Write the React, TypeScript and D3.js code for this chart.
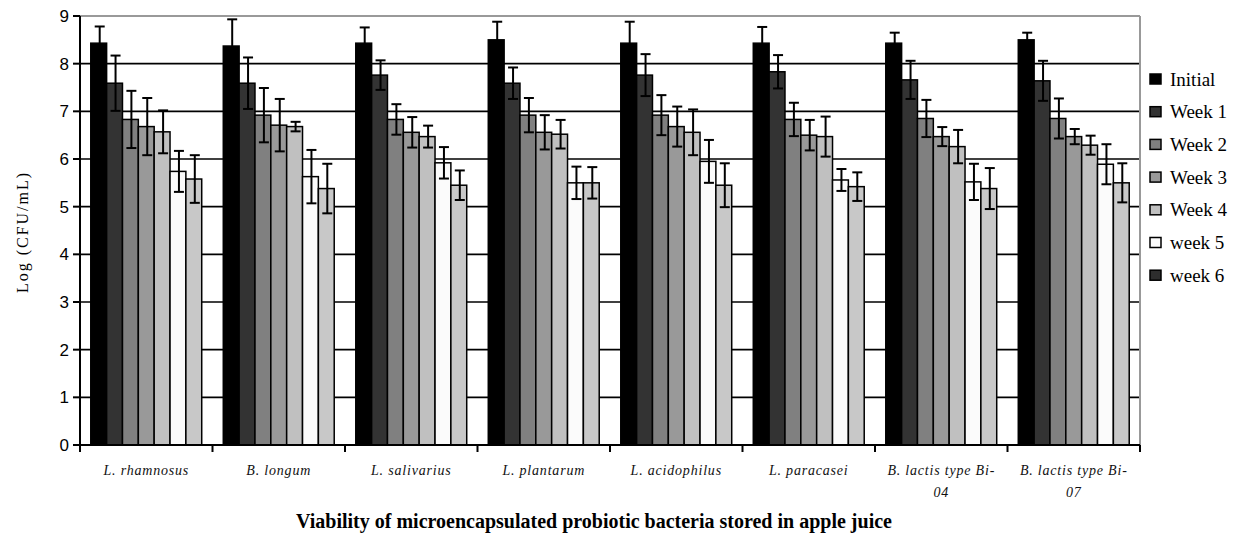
import React from "react";
import * as d3 from "d3";

const categories = [
  "L. rhamnosus",
  "B. longum",
  "L. salivarius",
  "L. plantarum",
  "L. acidophilus",
  "L. paracasei",
  "B. lactis type Bi-04",
  "B. lactis type Bi-07",
];
const categoryLabelLines = [
  ["L. rhamnosus"],
  ["B. longum"],
  ["L. salivarius"],
  ["L. plantarum"],
  ["L. acidophilus"],
  ["L. paracasei"],
  ["B. lactis type Bi-", "04"],
  ["B. lactis type Bi-", "07"],
];
const seriesNames = ["Initial", "Week 1", "Week 2", "Week 3", "Week 4", "week 5", "week 6"];

const initial = [8.43, 8.37, 8.43, 8.5, 8.43, 8.43, 8.43, 8.5];
const week1 = [7.59, 7.59, 7.76, 7.59, 7.76, 7.83, 7.66, 7.64];
const week2 = [6.83, 6.92, 6.83, 6.92, 6.92, 6.83, 6.85, 6.85];
const week3 = [6.68, 6.71, 6.56, 6.56, 6.68, 6.5, 6.47, 6.47];
const week4 = [6.57, 6.68, 6.47, 6.52, 6.56, 6.47, 6.26, 6.29];
const week5 = [5.74, 5.63, 5.92, 5.5, 5.95, 5.56, 5.52, 5.89];
const week6 = [5.58, 5.38, 5.45, 5.5, 5.45, 5.42, 5.38, 5.5];

const errInitial = [0.35, 0.56, 0.33, 0.38, 0.45, 0.34, 0.22, 0.15];
const errWeek1 = [0.58, 0.54, 0.31, 0.33, 0.44, 0.35, 0.4, 0.42];
const errWeek2 = [0.6, 0.57, 0.32, 0.36, 0.42, 0.35, 0.39, 0.42];
const errWeek3 = [0.6, 0.55, 0.32, 0.36, 0.42, 0.32, 0.2, 0.16];
const errWeek4 = [0.45, 0.1, 0.23, 0.3, 0.48, 0.42, 0.35, 0.2];
const errWeek5 = [0.43, 0.56, 0.33, 0.34, 0.45, 0.23, 0.38, 0.42];
const errWeek6 = [0.5, 0.52, 0.31, 0.33, 0.46, 0.3, 0.43, 0.41];

const seriesValues = [initial, week1, week2, week3, week4, week5, week6];
const seriesErrors = [errInitial, errWeek1, errWeek2, errWeek3, errWeek4, errWeek5, errWeek6];

const barColors = ["#000000", "#333333", "#808080", "#999999", "#c0c0c0", "#fbfbfb", "#c8c8c8"];
const legendColors = ["#000000", "#333333", "#808080", "#999999", "#c0c0c0", "#fbfbfb", "#2e2e2e"];

const yTicks = [0, 1, 2, 3, 4, 5, 6, 7, 8, 9];

const W = 1239;
const H = 538;
const plot = { left: 80, right: 1140, top: 16, bottom: 445 };

const serif = "'Liberation Serif', 'Times New Roman', serif";
const sans = "'Liberation Sans', Arial, sans-serif";

export default function App() {
  const x0 = d3.scaleBand<string>().domain(categories).range([plot.left, plot.right]).padding(0);
  const x1 = d3
    .scaleBand<string>()
    .domain(seriesNames)
    .range([0, x0.bandwidth()])
    .paddingInner(0)
    .paddingOuter(0.68);
  const y = d3.scaleLinear().domain([0, 9]).range([plot.bottom, plot.top]);
  const capHalf = 5;

  return (
    <svg
      width={W}
      height={H}
      style={{ position: "absolute", left: 0, top: 0, background: "#fff" }}
    >
      <rect x={0} y={0} width={W} height={H} fill="#fff" />
      {yTicks.filter((t) => t > 0 && t < 9).map((t) => (
        <line key={"g" + t} x1={plot.left} x2={plot.right} y1={y(t)} y2={y(t)} stroke="#000" strokeWidth={1.6} />
      ))}
      <line x1={plot.left} x2={plot.right} y1={y(9)} y2={y(9)} stroke="#999" strokeWidth={2} />
      <line x1={plot.right} x2={plot.right} y1={y(9)} y2={y(0)} stroke="#999" strokeWidth={2} />

      {categories.map((c, ci) => (
        <g key={c} transform={`translate(${x0(c)},0)`}>
          {seriesNames.map((s, si) => {
            const v = seriesValues[si][ci];
            return (
              <rect
                key={s}
                x={x1(s)}
                y={y(v)}
                width={x1.bandwidth()}
                height={y(0) - y(v)}
                fill={barColors[si]}
                stroke="#000"
                strokeWidth={1.5}
              />
            );
          })}
          {seriesNames.map((s, si) => {
            const v = seriesValues[si][ci];
            const e = seriesErrors[si][ci];
            const cx = (x1(s) as number) + x1.bandwidth() / 2 + 1;
            return (
              <g key={"e" + s} stroke="#000" strokeWidth={2}>
                <line x1={cx} x2={cx} y1={y(v + e)} y2={y(v - e)} />
                <line x1={cx - capHalf} x2={cx + capHalf} y1={y(v + e)} y2={y(v + e)} />
                <line x1={cx - capHalf} x2={cx + capHalf} y1={y(v - e)} y2={y(v - e)} />
              </g>
            );
          })}
        </g>
      ))}

      <line x1={plot.left} x2={plot.left} y1={y(9)} y2={y(0)} stroke="#000" strokeWidth={2} />
      {yTicks.map((t) => (
        <g key={"yt" + t}>
          <line x1={plot.left - 7} x2={plot.left} y1={y(t)} y2={y(t)} stroke="#000" strokeWidth={2} />
          <text
            x={69}
            y={y(t)}
            dy="0.36em"
            textAnchor="end"
            fontFamily={sans}
            fontSize={17}
            fill="#000"
          >
            {t}
          </text>
        </g>
      ))}

      <line x1={plot.left} x2={plot.right} y1={y(0)} y2={y(0)} stroke="#000" strokeWidth={2} />
      {categories.map((c) => (
        <line
          key={"xt" + c}
          x1={x0(c)}
          x2={x0(c)}
          y1={y(0)}
          y2={y(0) + 7}
          stroke="#000"
          strokeWidth={2}
        />
      ))}
      <line x1={plot.right} x2={plot.right} y1={y(0)} y2={y(0) + 7} stroke="#000" strokeWidth={2} />

      {categories.map((c, ci) => (
        <text
          key={"xl" + c}
          x={(x0(c) as number) + x0.bandwidth() / 2}
          y={475}
          textAnchor="middle"
          fontFamily={serif}
          fontStyle="italic"
          fontSize={14}
          letterSpacing={0.8}
          fill="#111"
        >
          {categoryLabelLines[ci].map((ln, li) => (
            <tspan key={li} x={(x0(c) as number) + x0.bandwidth() / 2} dy={li === 0 ? 0 : 22}>
              {ln}
            </tspan>
          ))}
        </text>
      ))}

      <text
        x={594}
        y={528}
        textAnchor="middle"
        fontFamily={serif}
        fontWeight="bold"
        fontSize={20}
        fill="#000"
      >
        Viability of microencapsulated probiotic bacteria stored in apple juice
      </text>
      <text
        transform={`translate(28,232) rotate(-90)`}
        textAnchor="middle"
        fontFamily={serif}
        fontSize={16}
        letterSpacing={2}
        fill="#000"
      >
        Log (CFU/mL)
      </text>

      {seriesNames.map((s, si) => {
        const ly = 79 + si * 32.7;
        return (
          <g key={"lg" + s}>
            <rect x={1150} y={ly - 5} width={11} height={10} fill={legendColors[si]} stroke="#000" strokeWidth={1.5} />
            <text x={1170} y={ly} dy="0.35em" fontFamily={serif} fontSize={19} fill="#000">
              {s}
            </text>
          </g>
        );
      })}
    </svg>
  );
}
